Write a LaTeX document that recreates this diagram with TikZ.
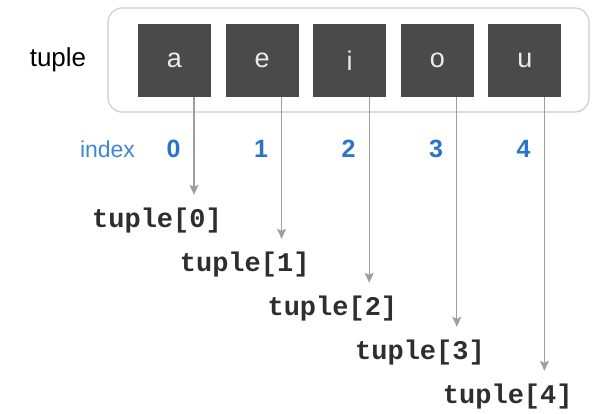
\documentclass[tikz,border=0pt]{standalone}
\usepackage{fontspec}
\setmainfont{Liberation Sans}
\newfontfamily\codefont{Liberation Mono}
\usepackage{tikz}
\usetikzlibrary{arrows.meta}
\usepackage{xcolor}
\definecolor{cell}{rgb}{0.29,0.29,0.29}
\definecolor{frame}{rgb}{0.80,0.80,0.80}
\definecolor{ptr}{rgb}{0.62,0.62,0.62}
\definecolor{code}{rgb}{0.18,0.18,0.18}
\definecolor{idxblue}{rgb}{0.25,0.52,0.84}
\definecolor{numblue}{rgb}{0.16,0.45,0.80}

\begin{document}
\begin{tikzpicture}[x=1pt, y=-1pt,
		c/.style = {rectangle, fill=cell, minimum size=73pt, inner sep=0, text=white!92!black, font=\fontsize{27}{27}\selectfont},
		b/.style = {rectangle, draw=frame, line width=1.2pt, rounded corners=14pt, minimum width=481pt, minimum height=104pt},
		n/.style = {text=numblue, font=\fontsize{25}{25}\selectfont\bfseries},
		t/.style = {inner sep=0, minimum height=52pt, text=code, font=\codefont\fontsize{27}{27}\selectfont\bfseries},
		r/.style = {-{Stealth[length=10pt, width=9pt, inset=2pt]}, draw=ptr, line width=1.3pt}
		]
		\useasboundingbox (0,0) rectangle (595,413);
		
		%Nodes
		\node[b]	(box)	at	(348.5, 60)	{};
		\node		(name)	at	(58, 60)	{\fontsize{26}{26}\selectfont tuple};
		\node[c]	(c0)	at	(174.5, 60.5)	{a};
		\node[c]	(c1)	at	(262.1, 60.5)	{e};
		\node[c]	(c2)	at	(349.7, 60.5)	{i};
		\node[c]	(c3)	at	(437.3, 60.5)	{o};
		\node[c]	(c4)	at	(524.9, 60.5)	{u};
		\node		(idx)	at	(107.5, 149)	{\color{idxblue}\fontsize{23}{23}\selectfont index};
		\node[n]	(n0)	at	(173.5, 149)	{0};
		\node[n]	(n1)	at	(261, 149)	{1};
		\node[n]	(n2)	at	(348.5, 149)	{2};
		\node[n]	(n3)	at	(436, 149)	{3};
		\node[n]	(n4)	at	(523.5, 149)	{4};
		\node[t]	(t0)	at	(157, 221)	{tuple[0]};
		\node[t]	(t1)	at	(244.7, 265)	{tuple[1]};
		\node[t]	(t2)	at	(332.4, 309)	{tuple[2]};
		\node[t]	(t3)	at	(420, 353)	{tuple[3]};
		\node[t]	(t4)	at	(507.8, 397)	{tuple[4]};
		
		%Lines
		\draw[r]	([xshift=19.5pt]c0.south)	--	([xshift=19.5pt]c0.south |- t0.north);
		\draw[r]	([xshift=19.5pt]c1.south)	--	([xshift=19.5pt]c1.south |- t1.north);
		\draw[r]	([xshift=19.5pt]c2.south)	--	([xshift=19.5pt]c2.south |- t2.north);
		\draw[r]	([xshift=19.5pt]c3.south)	--	([xshift=19.5pt]c3.south |- t3.north);
		\draw[r]	([xshift=19.5pt]c4.south)	--	([xshift=19.5pt]c4.south |- t4.north);
	\end{tikzpicture}
\end{document}
